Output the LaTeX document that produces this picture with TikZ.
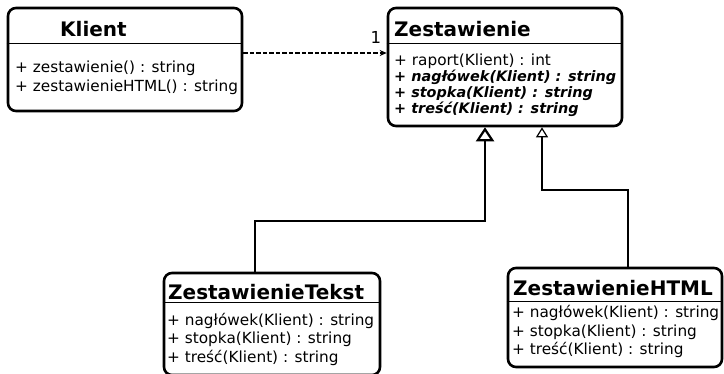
\documentclass[tikz,border=0pt]{standalone}
\usepackage{fontspec}
\setmainfont{DejaVu Sans}
\usepackage{tikz}
\usetikzlibrary{arrows.meta,positioning}
\tikzset{
  cls/.style={draw=black,line width=2.6pt,rounded corners=8pt,fill=white,inner sep=0pt},
  ttl/.style={font=\fontsize{20}{24}\selectfont\bfseries,inner sep=0pt,anchor=base west},
  mem/.style={font=\fontsize{15.3}{18}\selectfont,inner sep=0pt,anchor=base west},
  abs/.style={mem,font=\fontsize{14.4}{18}\selectfont\bfseries\itshape},
  sep/.style={draw=black,line width=0.9pt},
  dep/.style={-{Stealth[length=7pt,width=6pt]},line width=1.1pt,dash pattern=on 4.5pt off 2pt},
  genbig/.style={-{Triangle[open,length=14pt,width=18pt,line width=2.2pt]},line width=2.4pt},
  gensmall/.style={-{Triangle[open,length=10pt,width=12pt,line width=1.2pt]},line width=1.2pt},
}
\begin{document}
\begin{tikzpicture}[x=1pt,y=-1pt]
\useasboundingbox (0,0) rectangle (724,373);
% klasy
\node[cls,minimum width=234pt,minimum height=103pt] (kl) at (125,59.5) {};
\node[cls,minimum width=234pt,minimum height=118pt] (zs) at (505,67) {};
\node[cls,minimum width=216pt,minimum height=102pt] (zt) at (272,324) {};
\node[cls,minimum width=214pt,minimum height=99pt] (zh) at (615,317.5) {};
\draw[sep] (kl.west |- 0,43) -- (kl.east |- 0,43);
\draw[sep] (zs.west |- 0,43) -- (zs.east |- 0,43);
\draw[sep] (zt.west |- 0,302) -- (zt.east |- 0,302);
\draw[sep] (zh.west |- 0,301) -- (zh.east |- 0,301);
% Klient
\node[ttl] (klt) at (60,36) {Klient};
\node[mem] (kl1) at (15,72) {+ zestawienie() : string};
\node[mem] (kl2) at (15,91) {+ zestawienieHTML() : string};
% Zestawienie
\node[ttl] (zst) at (394,36) {Zestawienie};
\node[mem] (zs1) at (394,65) {+ raport(Klient) : int};
\node[abs] (zs2) at (394,81) {+ nagłówek(Klient) : string};
\node[abs] (zs3) at (394,97) {+ stopka(Klient) : string};
\node[abs] (zs4) at (394,113) {+ treść(Klient) : string};
% ZestawienieTekst
\node[ttl] (ztt) at (168,299) {ZestawienieTekst};
\node[mem] (zt1) at (167,325) {+ nagłówek(Klient) : string};
\node[mem] (zt2) at (167,343) {+ stopka(Klient) : string};
\node[mem] (zt3) at (167,362) {+ treść(Klient) : string};
% ZestawienieHTML
\node[ttl] (zht) at (513,295) {ZestawienieHTML};
\node[mem] (zh1) at (512,317) {+ nagłówek(Klient) : string};
\node[mem] (zh2) at (512,336) {+ stopka(Klient) : string};
\node[mem] (zh3) at (512,354) {+ treść(Klient) : string};
% powiazania
\draw[dep] (kl.east |- 0,53) -- (zs.west |- 0,53)
  node[pos=1,anchor=south east,font=\fontsize{16.5}{18}\selectfont,inner sep=1pt,xshift=-4pt,yshift=8pt] (lab1) {1};
\coordinate (b1) at (255,221);
\coordinate (b2) at (485,221);
\draw[genbig] (zt.north -| b1) -- (b1) -- (b2) -- (b2 |- zs.south);
\coordinate (b3) at (628,190);
\coordinate (b4) at (542,190);
\draw[gensmall] (zh.north -| b3) -- (b3) -- (b4) -- (b4 |- zs.south);
\end{tikzpicture}
\end{document}
